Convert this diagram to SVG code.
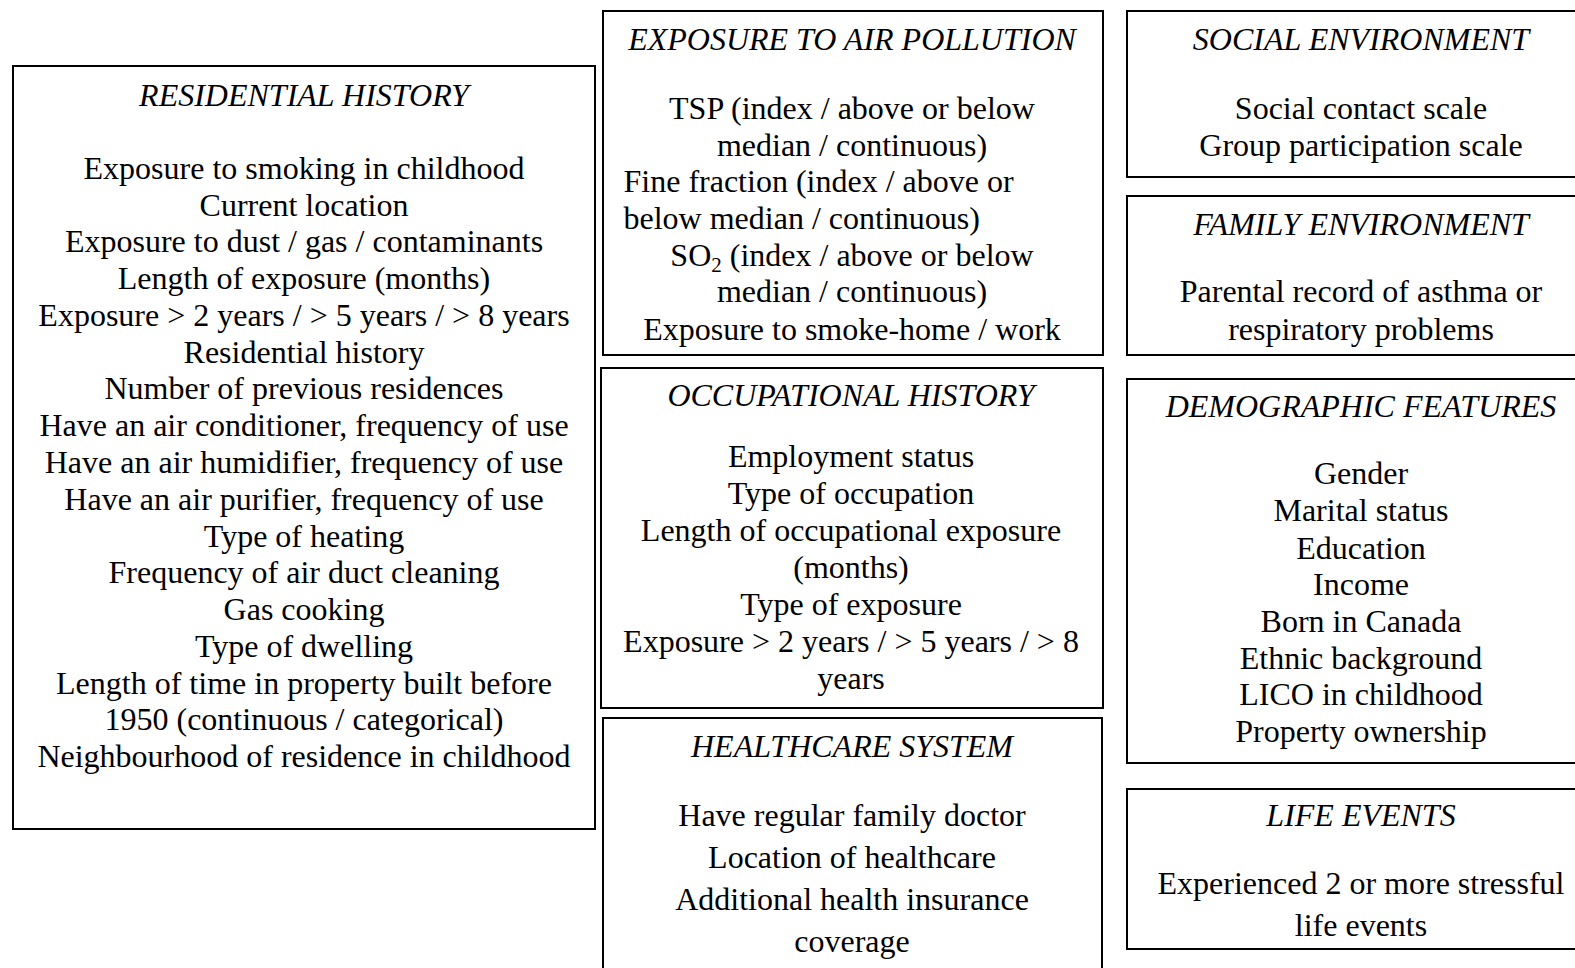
<svg xmlns="http://www.w3.org/2000/svg" width="1575" height="968" viewBox="0 0 1575 968">
  <style>
    .box { fill: #ffffff; stroke: #000000; stroke-width: 2; }
    text { font-family: "Liberation Serif", "Times New Roman", serif; fill: #000000; }
    .t { font-size: 32px; font-style: italic; text-anchor: middle; }
    .b { font-size: 32px; text-anchor: middle; }
    .l { font-size: 32px; text-anchor: start; }
    .sub { font-size: 21px; }
  </style>
  <rect width="1575" height="968" fill="#ffffff"/>

  <g id="residential-history">
    <rect class="box" x="13" y="66" width="582" height="763"/>
    <text class="t" x="304" y="105.5">RESIDENTIAL HISTORY</text>
    <text class="b" x="304" y="178.8">Exposure to smoking in childhood</text>
    <text class="b" x="304" y="215.6">Current location</text>
    <text class="b" x="304" y="252.3">Exposure to dust / gas / contaminants</text>
    <text class="b" x="304" y="289.1">Length of exposure (months)</text>
    <text class="b" x="304" y="325.9">Exposure &gt; 2 years / &gt; 5 years / &gt; 8 years</text>
    <text class="b" x="304" y="362.7">Residential history</text>
    <text class="b" x="304" y="399.4">Number of previous residences</text>
    <text class="b" x="304" y="436.2">Have an air conditioner, frequency of use</text>
    <text class="b" x="304" y="473">Have an air humidifier, frequency of use</text>
    <text class="b" x="304" y="509.7">Have an air purifier, frequency of use</text>
    <text class="b" x="304" y="546.5">Type of heating</text>
    <text class="b" x="304" y="583.3">Frequency of air duct cleaning</text>
    <text class="b" x="304" y="620">Gas cooking</text>
    <text class="b" x="304" y="656.8">Type of dwelling</text>
    <text class="b" x="304" y="693.6">Length of time in property built before</text>
    <text class="b" x="304" y="730.4">1950 (continuous / categorical)</text>
    <text class="b" x="304" y="767.1">Neighbourhood of residence in childhood</text>
  </g>

  <g id="air-pollution">
    <rect class="box" x="603" y="11" width="500" height="344"/>
    <text class="t" x="852" y="50.2">EXPOSURE TO AIR POLLUTION</text>
    <text class="b" x="852" y="118.5">TSP (index / above or below</text>
    <text class="b" x="852" y="155.7">median / continuous)</text>
    <text class="l" x="623.5" y="191.9">Fine fraction (index / above or</text>
    <text class="l" x="623.5" y="229">below median / continuous)</text>
    <text class="b" x="852" y="266.2">SO<tspan class="sub" dy="6">2</tspan><tspan dy="-6"> (index / above or below</tspan></text>
    <text class="b" x="852" y="302.3">median / continuous)</text>
    <text class="b" x="852" y="339.5">Exposure to smoke-home / work</text>
  </g>

  <g id="occupational-history">
    <rect class="box" x="601" y="368" width="502" height="340"/>
    <text class="t" x="851" y="405.8">OCCUPATIONAL HISTORY</text>
    <text class="b" x="851" y="467.1">Employment status</text>
    <text class="b" x="851" y="504.2">Type of occupation</text>
    <text class="b" x="851" y="541.4">Length of occupational exposure</text>
    <text class="b" x="851" y="577.6">(months)</text>
    <text class="b" x="851" y="614.7">Type of exposure</text>
    <text class="b" x="851" y="651.9">Exposure &gt; 2 years / &gt; 5 years / &gt; 8</text>
    <text class="b" x="851" y="689.1">years</text>
  </g>

  <g id="healthcare-system">
    <rect class="box" x="603" y="718" width="499" height="270"/>
    <text class="t" x="852" y="757.4">HEALTHCARE SYSTEM</text>
    <text class="b" x="852" y="825.7">Have regular family doctor</text>
    <text class="b" x="852" y="867.9">Location of healthcare</text>
    <text class="b" x="852" y="910">Additional health insurance</text>
    <text class="b" x="852" y="952.2">coverage</text>
  </g>

  <g id="social-environment">
    <rect class="box" x="1127" y="11" width="470" height="166"/>
    <text class="t" x="1361" y="50.2">SOCIAL ENVIRONMENT</text>
    <text class="b" x="1361" y="118.5">Social contact scale</text>
    <text class="b" x="1361" y="155.7">Group participation scale</text>
  </g>

  <g id="family-environment">
    <rect class="box" x="1127" y="196" width="470" height="159"/>
    <text class="t" x="1361" y="235">FAMILY ENVIRONMENT</text>
    <text class="b" x="1361" y="302.3">Parental record of asthma or</text>
    <text class="b" x="1361" y="339.5">respiratory problems</text>
  </g>

  <g id="demographic-features">
    <rect class="box" x="1127" y="379" width="470" height="384"/>
    <text class="t" x="1361" y="416.9">DEMOGRAPHIC FEATURES</text>
    <text class="b" x="1361" y="484.2">Gender</text>
    <text class="b" x="1361" y="521.3">Marital status</text>
    <text class="b" x="1361" y="558.5">Education</text>
    <text class="b" x="1361" y="594.6">Income</text>
    <text class="b" x="1361" y="631.8">Born in Canada</text>
    <text class="b" x="1361" y="669">Ethnic background</text>
    <text class="b" x="1361" y="705.1">LICO in childhood</text>
    <text class="b" x="1361" y="742.3">Property ownership</text>
  </g>

  <g id="life-events">
    <rect class="box" x="1127" y="789" width="470" height="160"/>
    <text class="t" x="1361" y="825.7">LIFE EVENTS</text>
    <text class="b" x="1361" y="894">Experienced 2 or more stressful</text>
    <text class="b" x="1361" y="936.2">life events</text>
  </g>

  <g id="connectors"/>
</svg>
